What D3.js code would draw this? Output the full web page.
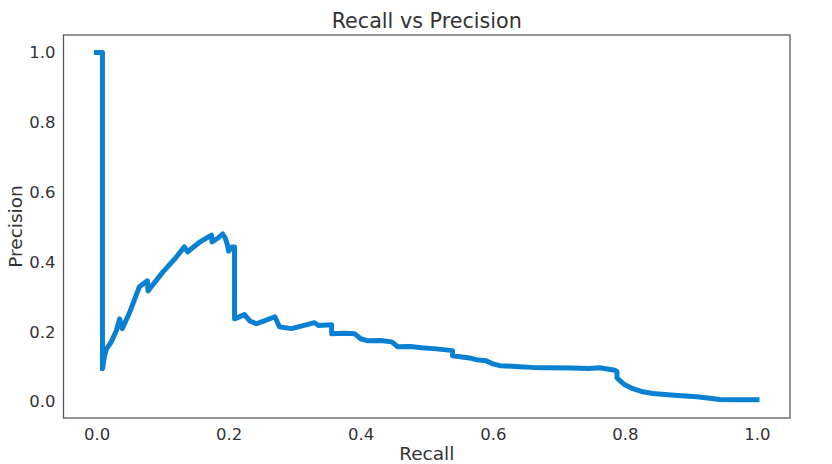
<!DOCTYPE html>
<html>
<head>
  <meta charset="utf-8" />
  <title>Recall vs Precision</title>
  <script src="https://d3js.org/d3.v7.min.js"></script>
  <style>
  body { margin: 0; background: #fff; }
  text { font-family: "DejaVu Sans", sans-serif; fill: #333; }
  </style>
</head>
<body>
  <script>
  var recall = [0, 0.009, 0.009, 0.012, 0.015, 0.022, 0.03, 0.035, 0.039, 0.05, 0.065, 0.077, 0.078,
    0.1, 0.12, 0.133, 0.138, 0.155, 0.174, 0.175, 0.185, 0.191, 0.195, 0.198, 0.2, 0.205, 0.209, 0.209,
    0.224, 0.232, 0.242, 0.255, 0.27, 0.277, 0.295, 0.31, 0.33, 0.336, 0.356, 0.356, 0.375, 0.391, 0.4,
    0.411, 0.43, 0.447, 0.456, 0.475, 0.492, 0.515, 0.539, 0.539, 0.565, 0.575, 0.59, 0.6, 0.611, 0.64,
    0.66, 0.682, 0.72, 0.745, 0.762, 0.778, 0.785, 0.788, 0.788, 0.795, 0.8, 0.812, 0.825, 0.842, 0.875,
    0.909, 0.944, 0.97, 1.0];
  var precision = [1.0, 1.0, 0.094, 0.13, 0.151, 0.17, 0.203, 0.237, 0.209, 0.255, 0.329, 0.346, 0.317,
    0.37, 0.412, 0.443, 0.429, 0.455, 0.477, 0.457, 0.47, 0.48, 0.468, 0.45, 0.431, 0.443, 0.443, 0.237,
    0.249, 0.231, 0.223, 0.232, 0.243, 0.214, 0.209, 0.216, 0.226, 0.218, 0.22, 0.194, 0.196, 0.194, 0.18,
    0.174, 0.175, 0.171, 0.157, 0.158, 0.154, 0.151, 0.146, 0.131, 0.125, 0.12, 0.117, 0.108, 0.103, 0.1,
    0.098, 0.097, 0.096, 0.095, 0.097, 0.092, 0.09, 0.086, 0.068, 0.056, 0.048, 0.037, 0.029, 0.023, 0.018,
    0.014, 0.006, 0.005, 0.005];
  var ticks = [0, 0.2, 0.4, 0.6, 0.8, 1.0];

  var W = 832, H = 464;
  var pL = 63.5, pR = 790, pT = 35, pB = 418;

  var svg = d3.select("body").append("svg")
    .attr("width", W)
    .attr("height", H);

  var x = d3.scaleLinear().domain([-0.05, 1.05]).range([pL, pR]);
  var y = d3.scaleLinear().domain([-0.047, 1.05]).range([pB, pT]);

  // axes, no tick marks, just labels
  var xAxis = svg.append("g").attr("transform", "translate(0," + pB + ")")
    .call(d3.axisBottom(x).tickValues(ticks).tickSize(0).tickPadding(10).tickFormat(d3.format(".1f")));
  var yAxis = svg.append("g").attr("transform", "translate(" + pL + ",0)")
    .call(d3.axisLeft(y).tickValues(ticks).tickSize(0).tickPadding(8).tickFormat(d3.format(".1f")));
  [xAxis, yAxis].forEach(function(a) {
    a.select(".domain").remove();
    a.selectAll("text").style("font-size", "16.5px").style("font-family", "DejaVu Sans").attr("fill", "#333");
  });

  var pts = recall.map(function(r, i) { return [r, precision[i]]; });
  var line = d3.line().x(function(d) { return x(d[0]); }).y(function(d) { return y(d[1]); });

  svg.append("path")
    .datum(pts)
    .attr("d", line)
    .attr("fill", "none")
    .attr("stroke", "#0a80d2")
    .attr("stroke-width", 5)
    .attr("stroke-linejoin", "round")
    .attr("stroke-linecap", "square");

  svg.append("rect")
    .attr("x", pL).attr("y", pT)
    .attr("width", pR - pL).attr("height", pB - pT)
    .attr("fill", "none").attr("stroke", "#555").attr("stroke-width", 1.25);

  svg.append("text").attr("x", (pL + pR) / 2).attr("y", 28)
    .attr("text-anchor", "middle").style("font-size", "20.7px").text("Recall vs Precision");
  svg.append("text").attr("x", (pL + pR) / 2).attr("y", 460)
    .attr("text-anchor", "middle").style("font-size", "18.5px").text("Recall");
  svg.append("text").attr("transform", "translate(22," + (pT + pB) / 2 + ") rotate(-90)")
    .attr("text-anchor", "middle").style("font-size", "18.5px").text("Precision");
  </script>
</body>
</html>
